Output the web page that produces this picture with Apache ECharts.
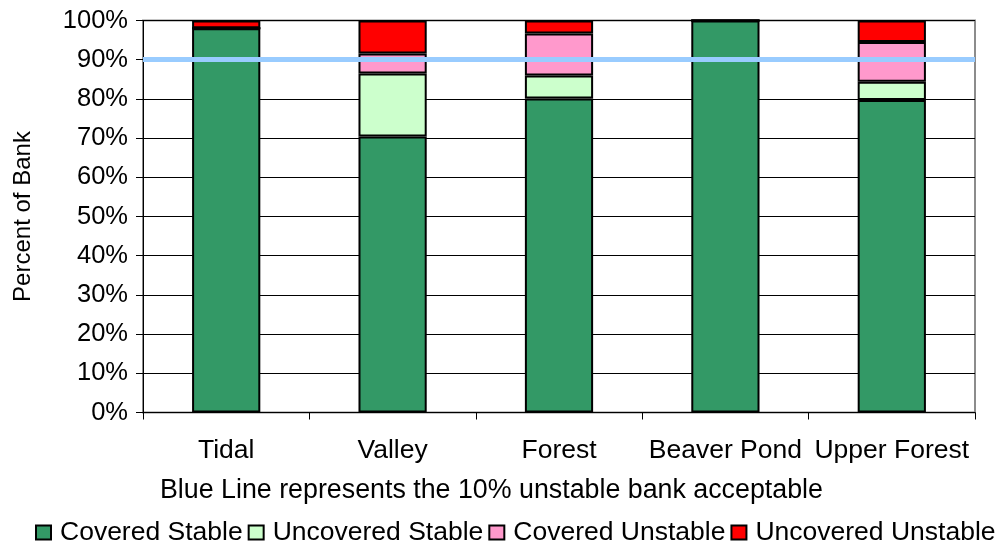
<!DOCTYPE html>
<html>
<head>
<meta charset="utf-8">
<title>Percent of Bank</title>
<script src="https://cdn.jsdelivr.net/npm/echarts@6/dist/echarts.min.js"></script>
<style>
  html, body { margin: 0; padding: 0; background: #ffffff; }
  #chart { width: 1001px; height: 547px; }
</style>
</head>
<body>
<div id="chart"></div>
<script>
// Bank condition by reach, as percent of bank length
const categories = ['Tidal', 'Valley', 'Forest', 'Beaver Pond', 'Upper Forest'];
const coveredStable     = [98.0, 70.4, 80.1, 100, 79.7];
const uncoveredStable   = [0,    16.1,  5.9,   0,  4.7];
const coveredUnstable   = [0,     5.1, 10.7,   0, 10.1];
const uncoveredUnstable = [2.0,   8.4,  3.3,   0,  5.5];
const acceptableLine = 90;   // 10% unstable bank acceptable
const yTicks = { min: 0, max: 100, interval: 10 };

const FONT = '"Liberation Sans", Arial, sans-serif';

const seriesDefs = [
  { name: 'Covered Stable',     data: coveredStable,     color: '#339966' },
  { name: 'Uncovered Stable',   data: uncoveredStable,   color: '#ccffcc' },
  { name: 'Covered Unstable',   data: coveredUnstable,   color: '#ff99cc' },
  { name: 'Uncovered Unstable', data: uncoveredUnstable, color: '#ff0000' }
];

const series = seriesDefs.map((s, i) => {
  const item = {
    name: s.name,
    type: 'bar',
    stack: 'bank',
    barWidth: '41%',
    data: s.data,
    itemStyle: { color: s.color, borderColor: '#000000', borderWidth: 2 },
    emphasis: { disabled: true }
  };
  if (i === seriesDefs.length - 1) {
    item.markLine = {
      silent: true,
      symbol: 'none',
      label: { show: false },
      lineStyle: { color: '#99ccff', width: 5, type: 'solid' },
      data: [{ yAxis: acceptableLine }]
    };
  }
  return item;
});

const chart = echarts.init(document.getElementById('chart'));
chart.setOption({
  backgroundColor: '#ffffff',
  animation: false,
  grid: {
    left: 143, right: 26, top: 20.5, bottom: 134.5,
    show: true, borderColor: '#8c8c8c', borderWidth: 2, backgroundColor: 'transparent'
  },
  legend: {
    left: 35, top: 519, width: 966, padding: 0,
    itemWidth: 15, itemHeight: 14, itemGap: 5,
    icon: 'rect',
    textStyle: { fontFamily: FONT, fontSize: 26.5, color: '#000000', padding: [0, 0, 0, 4] },
    data: seriesDefs.map(s => s.name)
  },
  xAxis: {
    type: 'category',
    data: categories,
    axisLine: { lineStyle: { color: '#000000', width: 1 } },
    axisTick: { show: true, length: 7, lineStyle: { color: '#000000' } },
    axisLabel: { fontFamily: FONT, fontSize: 26.5, color: '#000000', margin: 25, interval: 0 }
  },
  yAxis: {
    type: 'value',
    min: yTicks.min, max: yTicks.max, interval: yTicks.interval,
    name: 'Percent of Bank',
    nameLocation: 'middle',
    nameGap: 108,
    nameTextStyle: { fontFamily: FONT, fontSize: 24, color: '#000000' },
    axisLine: { show: true, lineStyle: { color: '#000000', width: 1 } },
    axisTick: { show: true, length: 7, lineStyle: { color: '#000000' } },
    axisLabel: { fontFamily: FONT, fontSize: 25.5, color: '#000000', margin: 15, formatter: '{value}%' },
    splitLine: { show: true, lineStyle: { color: '#000000', width: 1 } }
  },
  graphic: [{
    type: 'text',
    left: 160, top: 477,
    style: {
      text: 'Blue Line represents the 10% unstable bank acceptable',
      font: '26.8px ' + FONT,
      fill: '#000000'
    }
  }],
  series: series
});
</script>
</body>
</html>
